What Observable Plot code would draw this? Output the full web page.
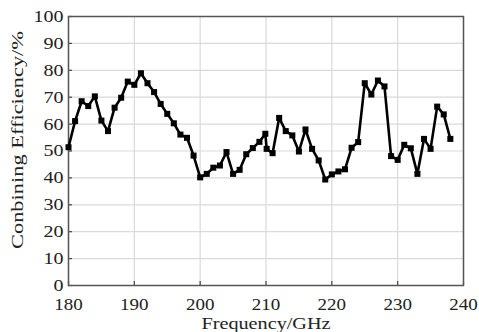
<!DOCTYPE html>
<html>
<head>
<meta charset="utf-8">
<script src="https://cdn.jsdelivr.net/npm/d3@7"></script>
<script src="https://cdn.jsdelivr.net/npm/@observablehq/plot@0.6"></script>
<style>
  html, body { margin: 0; padding: 0; background: #fff; }
  #chart svg { display: block; }
</style>
</head>
<body>
<div id="chart"></div>
<script>
const freq = [180,181,182,183,184,185,186,187,188,189,190,191,192,193,194,195,196,197,198,199,
  200,201,202,203,204,205,206,207,208,209,209.9,210.1,211,212,213,214,215,216,217,218,219,
  220,221,222,223,224,225,226,227,228,229,230,231,232,233,234,235,236,237,238];
const efficiency = [51.4,61.1,68.5,66.7,70.3,61.3,57.4,66.1,69.8,75.8,74.6,78.9,75.2,71.9,67.5,63.8,60.3,56.1,54.9,48.3,
  40.2,41.5,43.8,44.6,49.6,41.5,43.0,48.8,51.1,53.4,56.4,50.8,49.2,62.3,57.4,55.8,49.8,58.0,50.8,46.5,39.4,
  41.3,42.4,43.2,51.2,53.3,75.2,71.0,76.2,74.0,48.1,46.7,52.3,51.0,41.5,54.5,50.8,66.5,63.6,54.5];
const xTicks = [180,190,200,210,220,230,240];
const yTicks = [0,10,20,30,40,50,60,70,80,90,100];
const xLabel = "Frequency/GHz";
const yLabel = "Conbining Efficiency/%";

const data = freq.map((f, i) => ({f, e: efficiency[i]}));

const chart = Plot.plot({
  width: 479,
  height: 332,
  marginLeft: 68,
  marginRight: 16,
  marginTop: 16,
  marginBottom: 47,
  style: {fontFamily: "'Liberation Serif', serif", fontSize: "17px", color: "#222", background: "#fff"},
  x: {domain: [180, 240]},
  y: {domain: [0, 100]},
  marks: [
    Plot.gridX(xTicks, {stroke: "#d9d9d9", strokeOpacity: 1, strokeWidth: 1.2}),
    Plot.gridY(yTicks, {stroke: "#d9d9d9", strokeOpacity: 1, strokeWidth: 1.2}),
    Plot.ruleY(yTicks, {x1: 180, x2: 180.6, stroke: "#444", strokeWidth: 1.2}),
    Plot.ruleX(xTicks, {y1: 0, y2: 1.5, stroke: "#444", strokeWidth: 1.2}),
    Plot.axisX(xTicks, {tickSize: 0, tickPadding: 12, label: xLabel, labelAnchor: "center", labelArrow: "none", labelOffset: 43, fill: "#222", className: "xax"}),
    Plot.axisY(yTicks, {tickSize: 0, tickPadding: 5, label: yLabel, labelAnchor: "center", labelArrow: "none", labelOffset: 58, fill: "#222", className: "yax"}),
    Plot.frame({stroke: "#555", strokeWidth: 1.5}),
    Plot.line(data, {x: "f", y: "e", stroke: "#000", strokeWidth: 2.6}),
    Plot.dot(data, {x: "f", y: "e", symbol: "square", r: 3.4, fill: "#000", stroke: "none"})
  ]
});
document.getElementById("chart").appendChild(chart);

// stretch lettering horizontally to match the reference's wider glyphs
const xTickSet = new Set(xTicks.map(String));
const yTickSet = new Set(yTicks.map(String));
d3.select(chart).selectAll("text").each(function() {
  const t = this.textContent;
  const sel = d3.select(this);
  if (t === xLabel) sel.attr("textLength", 129).attr("lengthAdjust", "spacingAndGlyphs");
  else if (t === yLabel) sel.attr("textLength", 218).attr("lengthAdjust", "spacingAndGlyphs").attr("dx", 11);
  else if (xTickSet.has(t) && this.closest(".xax")) sel.attr("textLength", 9.5 * t.length).attr("lengthAdjust", "spacingAndGlyphs");
  else if (yTickSet.has(t) && this.closest(".yax")) sel.attr("textLength", 10 * t.length).attr("lengthAdjust", "spacingAndGlyphs");
});
</script>
</body>
</html>
